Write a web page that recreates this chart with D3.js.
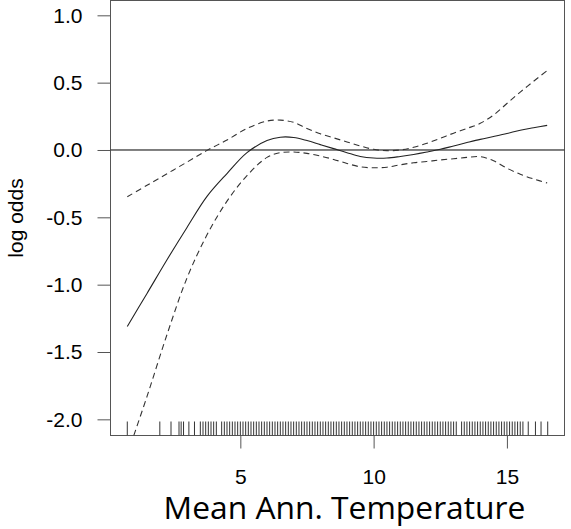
<!DOCTYPE html>
<html>
<head>
<meta charset="utf-8">
<script src="https://cdn.jsdelivr.net/npm/d3@7"></script>
<style>
  body { margin: 0; background: #fff; }
  svg { display: block; }
</style>
</head>
<body>
<svg width="571" height="529"></svg>
<script>
// temperature grid the smooth was read at
var temps = [0.76, 1.5, 2.25, 3.0, 3.75, 4.5, 5.25, 6.0, 6.5, 7.0, 7.5, 8.0, 8.5, 9.0, 9.5,
             10.0, 10.5, 11.0, 11.5, 12.0, 12.5, 13.0, 13.5, 14.0, 14.5, 15.0, 15.5, 16.0, 16.51];
// fitted log odds
var fit = [-1.31, -1.065, -0.815, -0.575, -0.345, -0.175, -0.02, 0.07, 0.095, 0.093, 0.07, 0.04, 0.01, -0.02, -0.048,
           -0.06, -0.06, -0.048, -0.033, -0.015, 0.005, 0.03, 0.055, 0.079, 0.1, 0.122, 0.147, 0.165, 0.183];
// upper and lower bands (dashed)
var upper = [-0.347, -0.262, -0.176, -0.09, -0.003, 0.074, 0.16, 0.215, 0.222, 0.205, 0.16, 0.12, 0.09, 0.06, 0.03,
             0.005, -0.005, 0.0, 0.02, 0.05, 0.087, 0.125, 0.16, 0.198, 0.26, 0.345, 0.43, 0.51, 0.59];
var lower = [-2.26, -1.83, -1.37, -0.95, -0.63, -0.38, -0.19, -0.055, -0.02, -0.015, -0.025, -0.045, -0.07, -0.1, -0.125,
             -0.132, -0.128, -0.11, -0.095, -0.085, -0.074, -0.065, -0.055, -0.05, -0.08, -0.135, -0.18, -0.215, -0.245];
// observed temperatures (rug)
var rugTemps = [0.76, 1.98, 2.4, 2.7, 2.78, 2.87, 3.07, 3.28,
  3.5, 3.6, 3.7, 3.8, 3.9, 4.0, 4.1, 4.3, 4.4, 4.5, 4.6, 4.7, 4.8, 4.9, 5.0, 5.1, 5.2, 5.3, 5.4, 5.5,
  5.6, 5.7, 5.8, 5.9, 6.0, 6.1, 6.2, 6.3, 6.4, 6.5, 6.6, 6.7, 6.8, 6.9, 7.0, 7.1, 7.2, 7.3, 7.4, 7.5,
  7.6, 7.7, 7.8, 7.9, 8.0, 8.1, 8.2, 8.3, 8.4, 8.5, 8.6, 8.7, 8.8, 8.9, 9.0, 9.1, 9.2, 9.3, 9.4, 9.5,
  9.6, 9.7, 9.8, 9.9, 10.0, 10.1, 10.2, 10.3, 10.4, 10.5, 10.6, 10.7, 10.8, 10.9, 11.0, 11.1, 11.2,
  11.3, 11.4, 11.5, 11.6, 11.7, 11.8, 11.9, 12.0, 12.1, 12.2, 12.3, 12.4, 12.5, 12.6, 12.7, 12.8,
  12.9, 13.0, 13.1, 13.3, 13.4, 13.5, 13.6, 13.7, 13.8, 13.9, 14.0, 14.1, 14.2, 14.3, 14.4, 14.5,
  14.6, 14.7, 14.8, 14.9, 15.0, 15.1, 15.2, 15.3, 15.4, 15.5, 15.6, 15.8, 16.07, 16.28, 16.53];
var yTicks = [-2.0, -1.5, -1.0, -0.5, 0.0, 0.5, 1.0];
var xTicks = [5, 10, 15];

var svg = d3.select('svg');
var box = { l: 110.5, r: 564.5, t: 0.5, b: 435.5 };
var axisColor = '#555';

var xScale = d3.scaleLinear().domain([0.13, 17.16]).range([box.l, box.r]);
var yScale = d3.scaleLinear().domain([-2.12, 1.11]).range([box.b, box.t]);

svg.append('clipPath').attr('id', 'plotClip')
  .append('rect')
  .attr('x', box.l).attr('y', box.t)
  .attr('width', box.r - box.l).attr('height', box.b - box.t);

// axes
var yAxis = svg.append('g')
  .attr('transform', 'translate(' + box.l + ',0)')
  .call(d3.axisLeft(yScale).tickValues(yTicks).tickSize(13).tickPadding(15)
    .tickFormat(function(d) { return d.toFixed(1); }));
var xAxis = svg.append('g')
  .attr('transform', 'translate(0,' + box.b + ')')
  .call(d3.axisBottom(xScale).tickValues(xTicks).tickSize(13).tickPadding(21));

[yAxis, xAxis].forEach(function(g) {
  g.select('.domain').remove();
  g.selectAll('line').attr('stroke', axisColor);
  g.selectAll('text')
    .attr('fill', '#000')
    .style('font-family', '"Liberation Sans", Arial, sans-serif')
    .style('font-size', '21px');
});

// plot frame
svg.append('rect')
  .attr('x', box.l).attr('y', box.t)
  .attr('width', box.r - box.l).attr('height', box.b - box.t)
  .attr('fill', 'none').attr('stroke', axisColor).attr('stroke-width', 1);

var plotG = svg.append('g').attr('clip-path', 'url(#plotClip)');

// zero reference line
plotG.append('line')
  .attr('x1', box.l).attr('x2', box.r)
  .attr('y1', yScale(0)).attr('y2', yScale(0))
  .attr('stroke', '#000').attr('stroke-width', 1);

// rug
plotG.selectAll('.rug')
  .data(rugTemps)
  .enter().append('line')
  .attr('class', 'rug')
  .attr('x1', function(d) { return xScale(d); })
  .attr('x2', function(d) { return xScale(d); })
  .attr('y1', box.b - 14)
  .attr('y2', box.b)
  .attr('stroke', '#333').attr('stroke-width', 1);

function seriesLine(vals) {
  return d3.line()
    .x(function(d, i) { return xScale(temps[i]); })
    .y(function(d) { return yScale(d); })
    .curve(d3.curveCatmullRom.alpha(0.5))(vals);
}

plotG.append('path').attr('d', seriesLine(upper))
  .attr('fill', 'none').attr('stroke', '#333').attr('stroke-width', 1.1)
  .attr('stroke-dasharray', '6,4');
plotG.append('path').attr('d', seriesLine(lower))
  .attr('fill', 'none').attr('stroke', '#333').attr('stroke-width', 1.1)
  .attr('stroke-dasharray', '6,4');
plotG.append('path').attr('d', seriesLine(fit))
  .attr('fill', 'none').attr('stroke', '#222').attr('stroke-width', 1.1);

// y label
svg.append('text')
  .attr('transform', 'translate(23,' + ((box.t + box.b) / 2) + ') rotate(-90)')
  .attr('text-anchor', 'middle')
  .style('font-family', '"Liberation Sans", Arial, sans-serif')
  .style('font-size', '21px')
  .text('log odds');

// x title (fit to measured width)
var title = svg.append('text')
  .attr('x', 344.5).attr('y', 519)
  .attr('text-anchor', 'middle')
  .style('font-family', '"Open Sans", "Noto Sans", sans-serif')
  .style('font-size', '30px')
  .attr('fill', '#000')
  .text('Mean Ann. Temperature');
var w = title.node().getComputedTextLength();
title.style('font-size', (30 * 362 / w) + 'px');
</script>
</body>
</html>
